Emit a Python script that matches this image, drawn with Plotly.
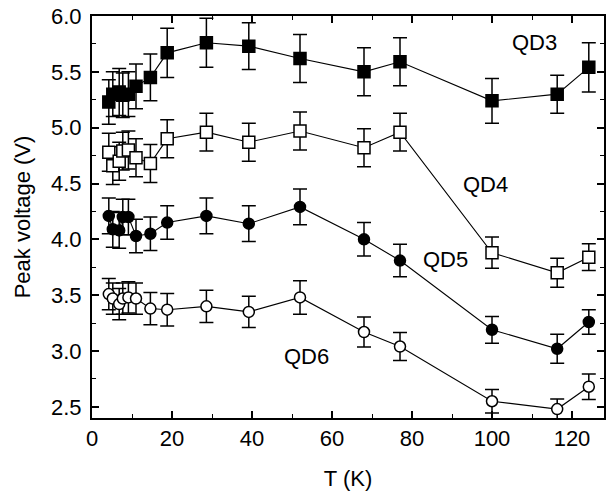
import plotly.graph_objects as go

# temperatures (K)
temps = [4.2, 5.2, 6.8, 7.7, 9.1, 11, 14.6, 18.8, 28.6, 39.2, 52, 68, 77, 100, 116.3, 124.2]

# peak voltage (V) and error bars for each dot
qd3 = [5.23, 5.30, 5.32, 5.29, 5.30, 5.37, 5.45, 5.67, 5.76, 5.73, 5.62, 5.50, 5.59, 5.24, 5.30, 5.54]
qd3_err = [0.20, 0.20, 0.21, 0.20, 0.20, 0.20, 0.21, 0.22, 0.22, 0.21, 0.215, 0.215, 0.215, 0.20, 0.17, 0.22]

qd4 = [4.78, 4.66, 4.70, 4.79, 4.80, 4.73, 4.68, 4.90, 4.96, 4.87, 4.97, 4.82, 4.96, 3.88, 3.70, 3.84]
qd4_err = [0.17, 0.17, 0.17, 0.17, 0.17, 0.17, 0.17, 0.17, 0.17, 0.17, 0.17, 0.17, 0.17, 0.14, 0.13, 0.12]

qd5 = [4.21, 4.09, 4.08, 4.20, 4.20, 4.03, 4.05, 4.15, 4.21, 4.14, 4.29, 4.00, 3.81, 3.19, 3.02, 3.26]
qd5_err = [0.16, 0.16, 0.16, 0.16, 0.16, 0.15, 0.15, 0.15, 0.16, 0.16, 0.16, 0.15, 0.145, 0.12, 0.13, 0.11]

qd6 = [3.51, 3.47, 3.42, 3.47, 3.48, 3.47, 3.38, 3.37, 3.40, 3.35, 3.48, 3.17, 3.04, 2.55, 2.48, 2.68]
qd6_err = [0.14, 0.14, 0.14, 0.14, 0.14, 0.14, 0.145, 0.145, 0.145, 0.14, 0.15, 0.135, 0.125, 0.105, 0.09, 0.115]

# label text and where it sits (data coords)
labels = ["QD3", "QD4", "QD5", "QD6"]
label_x = [110.5, 98.3, 88.4, 53.7]
label_y = [5.76, 4.49, 3.82, 2.95]

FONT = "Liberation Sans, Arial, sans-serif"

series = [
    (qd3, qd3_err, "square", "black"),
    (qd4, qd4_err, "square", "white"),
    (qd5, qd5_err, "circle", "black"),
    (qd6, qd6_err, "circle", "white"),
]

fig = go.Figure()
for vals, errs, sym, fill in series:
    fig.add_trace(go.Scatter(
        x=temps, y=vals, mode="lines+markers",
        line=dict(color="black", width=1.1),
        marker=dict(symbol=sym, size=12 if sym == "square" else 11, color=fill,
                    line=dict(color="black", width=1.5)),
        error_y=dict(type="data", array=errs, color="black", thickness=1.5, width=7),
        showlegend=False,
        cliponaxis=False,
    ))

for txt, lx, ly in zip(labels, label_x, label_y):
    fig.add_annotation(x=lx, y=ly, text=txt, showarrow=False,
                       font=dict(family=FONT, size=22, color="black"))

axis_common = dict(
    showline=True, linecolor="black", linewidth=2, mirror="ticks",
    ticks="inside", ticklen=7, tickwidth=1.5, tickcolor="black",
    showgrid=False, zeroline=False,
    tickfont=dict(family=FONT, size=22, color="black"),
)

fig.update_xaxes(range=[0, 128], dtick=20, tick0=0,
                 minor=dict(ticks="inside", ticklen=4, dtick=10, tickcolor="black", tickwidth=1.2),
                 title=dict(text="T (K)", font=dict(family=FONT, size=22, color="black"), standoff=20),
                 **axis_common)
fig.update_yaxes(range=[2.4, 6.0], dtick=0.5, tick0=2.5, tickformat=".1f",
                 minor=dict(ticks="inside", ticklen=4, dtick=0.25, tickcolor="black", tickwidth=1.2),
                 title=dict(text="Peak voltage (V)", font=dict(family=FONT, size=22, color="black"), standoff=14),
                 ticklabelstandoff=4,
                 **axis_common)

fig.update_layout(
    width=608, height=491,
    margin=dict(l=92, r=2, t=16, b=73),
    paper_bgcolor="white", plot_bgcolor="white",
    font=dict(family=FONT, color="black"),
)

# drop the default page margin so the figure sits at the window's corner
fig.write_html("out.html", config={"displayModeBar": False},
               post_script="document.body.style.margin='0';")
